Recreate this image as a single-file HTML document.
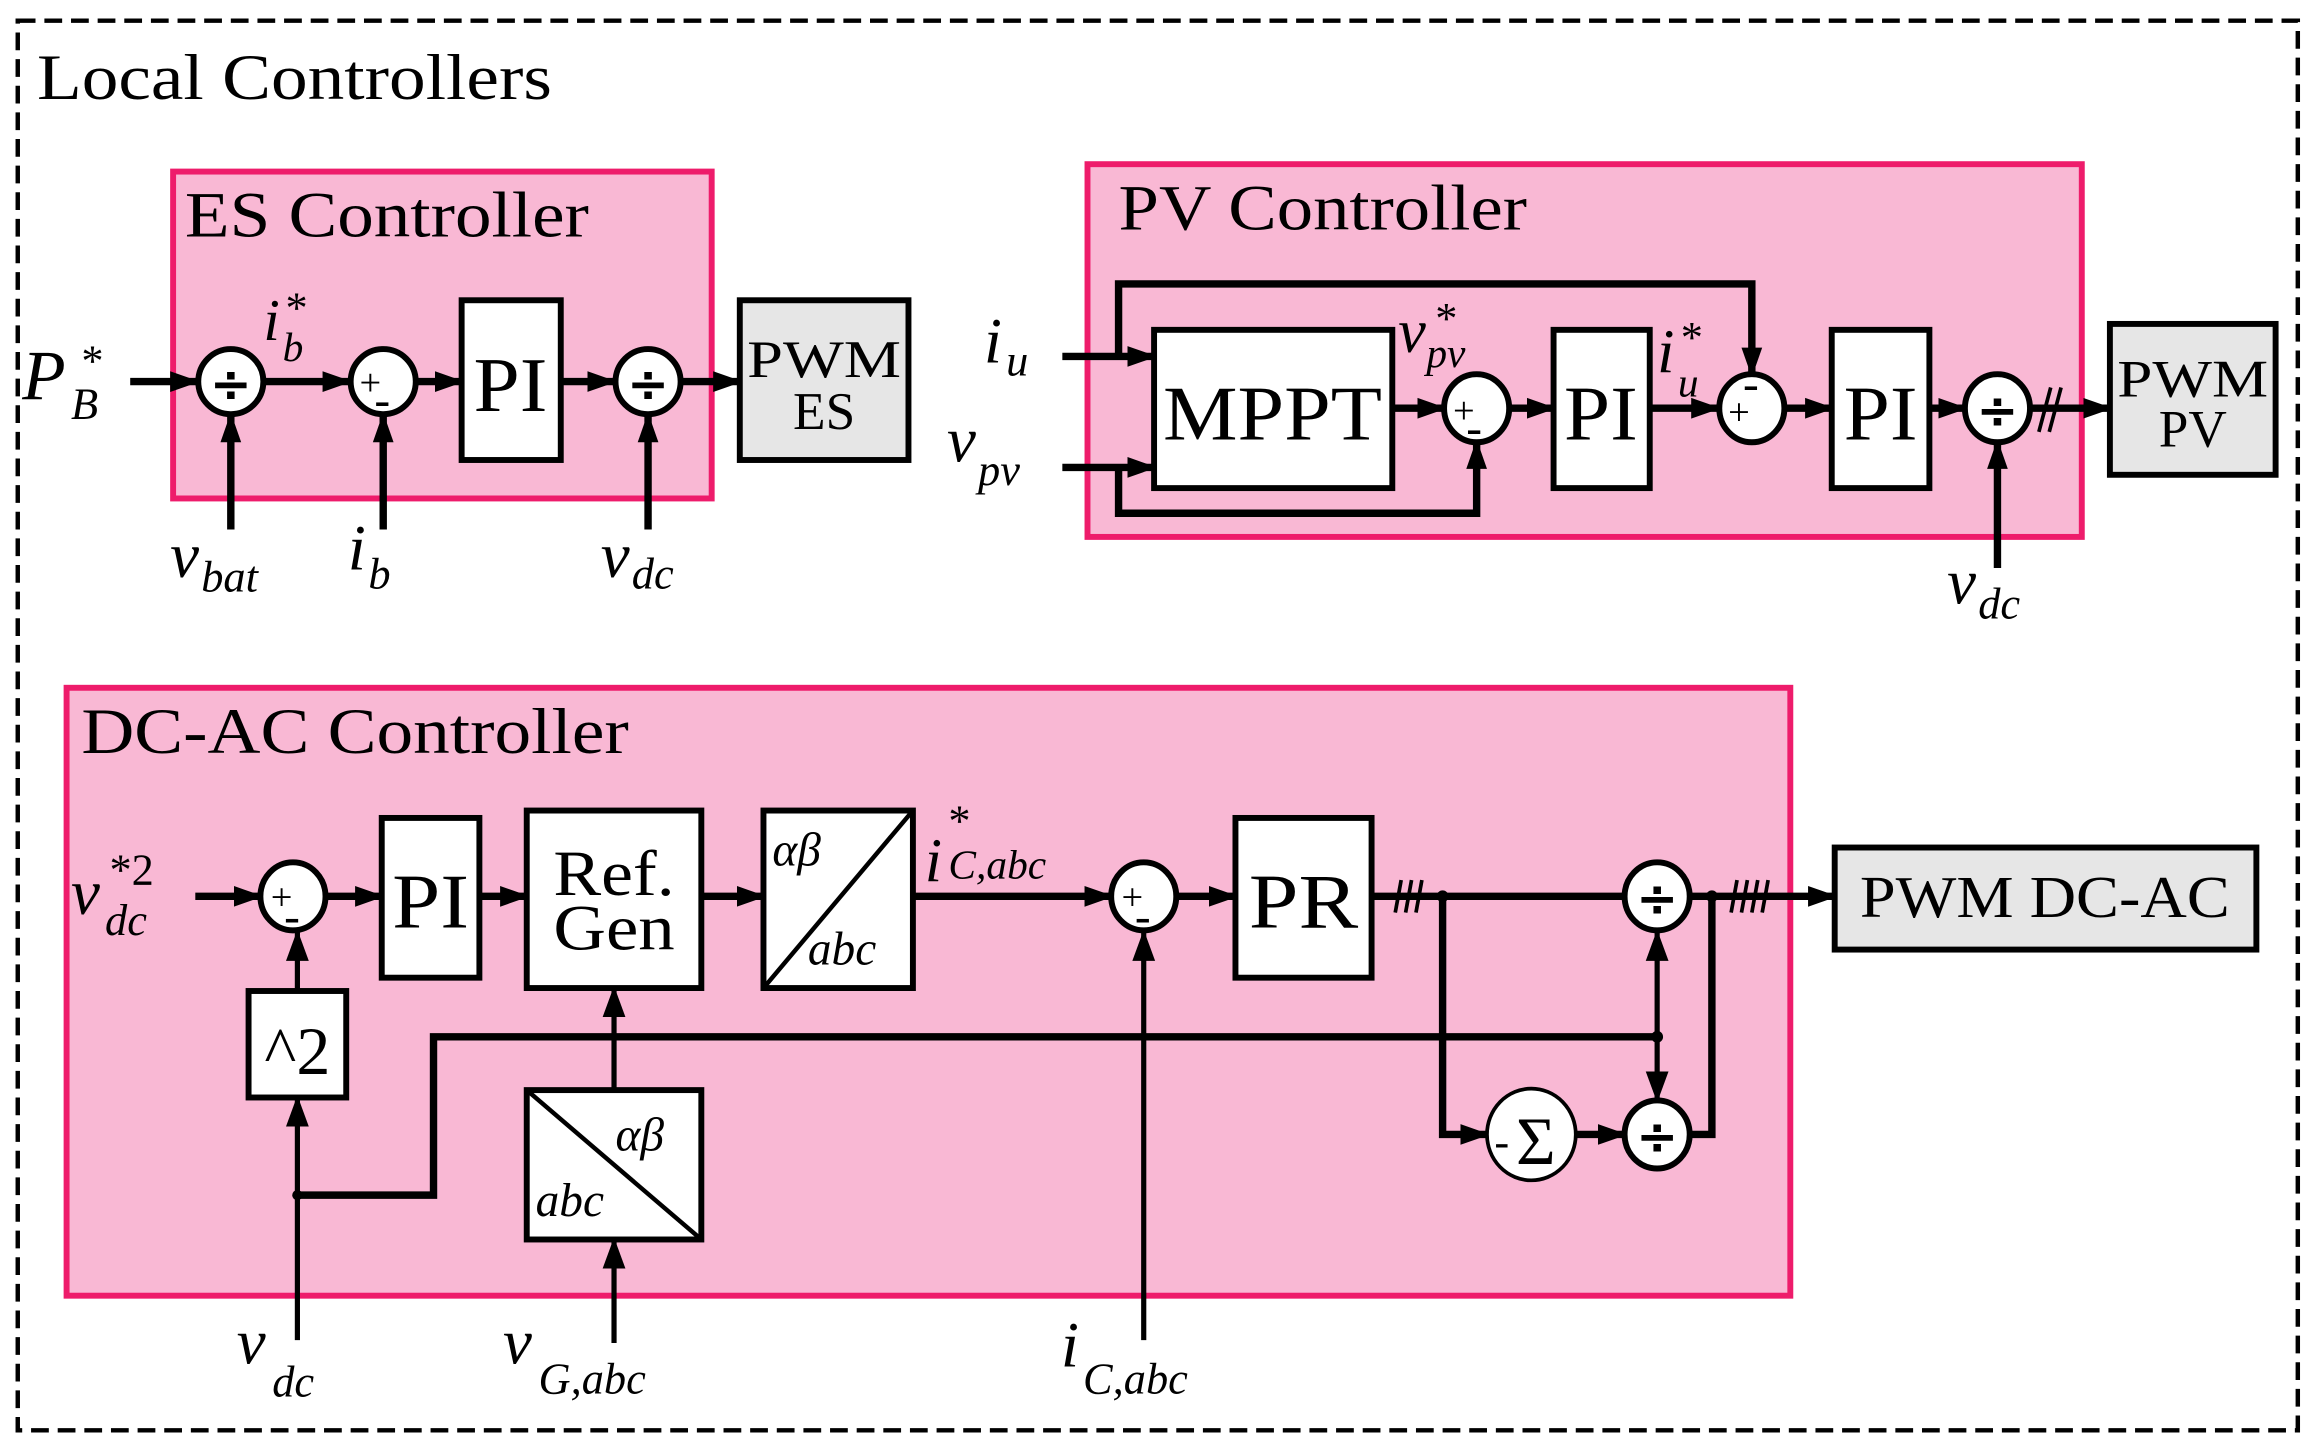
<!DOCTYPE html>
<html><head><meta charset="utf-8"><style>
html,body{margin:0;padding:0;background:#fff;}
svg{display:block;}
text{font-family:"Liberation Serif",serif;fill:#000;}
.m{font-style:italic;}
.d{font-family:"DejaVu Sans",sans-serif;font-weight:bold;}
</style></head><body>
<svg width="2320" height="1451" viewBox="0 0 1568 981" preserveAspectRatio="none" xmlns="http://www.w3.org/2000/svg">
<defs>
<marker id="a" markerWidth="4" markerHeight="4" refX="3.6" refY="2" orient="auto" markerUnits="strokeWidth"><path d="M0,0.6 L4,2 L0,3.4 z" fill="#000"/></marker>
<marker id="b" markerWidth="6" markerHeight="6" refX="5.6" refY="3" orient="auto" markerUnits="strokeWidth"><path d="M0,0.8 L6,3 L0,5.2 z" fill="#000"/></marker>
</defs>
<rect width="1568" height="981" fill="#fff"/>
<rect x="12" y="14" width="1541" height="953" fill="none" stroke="#000" stroke-width="3" stroke-dasharray="12,6"/>
<text x="25" y="67" font-size="44" textLength="348" lengthAdjust="spacingAndGlyphs">Local Controllers</text>

<!-- ES -->
<rect x="117" y="116" width="364" height="221" fill="#f9b8d4" stroke="#ee1c6b" stroke-width="4"/>
<text x="125" y="160" font-size="44" textLength="273" lengthAdjust="spacingAndGlyphs">ES Controller</text>
<g stroke="#000" stroke-width="5" fill="none">
<line x1="88" y1="258" x2="133" y2="258" marker-end="url(#a)"/>
<line x1="179" y1="258" x2="236" y2="258" marker-end="url(#a)"/>
<line x1="282" y1="258" x2="312" y2="258" marker-end="url(#a)"/>
<line x1="379" y1="258" x2="415" y2="258" marker-end="url(#a)"/>
<line x1="461" y1="258" x2="500" y2="258" marker-end="url(#a)"/>
<line x1="156" y1="358" x2="156" y2="281" marker-end="url(#a)"/>
<line x1="259" y1="358" x2="259" y2="281" marker-end="url(#a)"/>
<line x1="438" y1="358" x2="438" y2="281" marker-end="url(#a)"/>
</g>
<g stroke="#000" stroke-width="4" fill="#fff">
<circle cx="156" cy="258" r="22"/><circle cx="259" cy="258" r="22"/><circle cx="438" cy="258" r="22"/>
<rect x="312" y="203" width="67" height="108"/>
<rect x="500" y="203" width="114" height="108" fill="#e6e6e6"/>
</g>
<text class="d" x="156" y="271" font-size="34" text-anchor="middle">÷</text>
<text class="d" x="438" y="271" font-size="34" text-anchor="middle">÷</text>
<text x="243" y="267" font-size="26">+</text><text x="253" y="281" font-size="32">-</text>
<text x="345" y="278" font-size="52" text-anchor="middle" textLength="50" lengthAdjust="spacingAndGlyphs">PI</text>
<text x="557" y="255" font-size="36" text-anchor="middle" textLength="104" lengthAdjust="spacingAndGlyphs">PWM</text>
<text x="557" y="290" font-size="36" text-anchor="middle">ES</text>
<text x="15" y="270" font-size="48" class="m">P</text><text x="48" y="283" font-size="30" class="m">B</text><text x="55" y="254" font-size="30">*</text>
<text x="178" y="230" font-size="40" class="m">i</text><text x="191" y="244" font-size="28" class="m">b</text><text x="193" y="218" font-size="30">*</text>
<text x="115" y="390" font-size="44" class="m">v</text><text x="136" y="400" font-size="30" class="m">bat</text>
<text x="235" y="385" font-size="44" class="m">i</text><text x="249" y="398" font-size="30" class="m">b</text>
<text x="406" y="390" font-size="44" class="m">v</text><text x="427" y="398" font-size="30" class="m">dc</text>

<!-- PV -->
<rect x="735" y="111" width="672" height="252" fill="#f9b8d4" stroke="#ee1c6b" stroke-width="4"/>
<text x="756" y="155" font-size="44" textLength="276" lengthAdjust="spacingAndGlyphs">PV Controller</text>
<g stroke="#000" stroke-width="5" fill="none">
<line x1="718" y1="241" x2="780" y2="241" marker-end="url(#a)"/>
<line x1="718" y1="316" x2="780" y2="316" marker-end="url(#a)"/>
<polyline points="756,241 756,192 1184,192 1184,253" marker-end="url(#a)"/>
<polyline points="756,316 756,347 998,347 998,299" marker-end="url(#a)"/>
<line x1="941" y1="276" x2="976" y2="276" marker-end="url(#a)"/>
<line x1="1020" y1="276" x2="1050" y2="276" marker-end="url(#a)"/>
<line x1="1115" y1="276" x2="1161" y2="276" marker-end="url(#a)"/>
<line x1="1206" y1="276" x2="1238" y2="276" marker-end="url(#a)"/>
<line x1="1304" y1="276" x2="1328" y2="276" marker-end="url(#a)"/>
<line x1="1373" y1="276" x2="1426" y2="276" marker-end="url(#a)"/>
<line x1="1350" y1="384" x2="1350" y2="299" marker-end="url(#a)"/>
</g>
<g stroke="#000" stroke-width="2.5"><line x1="1378" y1="292" x2="1386" y2="262"/><line x1="1385" y1="292" x2="1393" y2="262"/></g>
<g stroke="#000" stroke-width="4" fill="#fff">
<rect x="780" y="223" width="161" height="107"/>
<rect x="1050" y="223" width="65" height="107"/>
<rect x="1238" y="223" width="66" height="107"/>
<ellipse cx="998" cy="276" rx="22" ry="23"/><ellipse cx="1184" cy="276" rx="22" ry="23"/><ellipse cx="1350" cy="276" rx="22" ry="23"/>
<rect x="1426" y="219" width="112" height="102" fill="#e6e6e6"/>
</g>
<text x="860" y="297" font-size="52" text-anchor="middle" textLength="148" lengthAdjust="spacingAndGlyphs">MPPT</text>
<text x="1082" y="297" font-size="52" text-anchor="middle" textLength="50" lengthAdjust="spacingAndGlyphs">PI</text>
<text x="1271" y="297" font-size="52" text-anchor="middle" textLength="50" lengthAdjust="spacingAndGlyphs">PI</text>
<text x="982" y="286" font-size="26">+</text><text x="991" y="300" font-size="32">-</text>
<text x="1168" y="287" font-size="26">+</text><text x="1178" y="270" font-size="32">-</text>
<text class="d" x="1350" y="289" font-size="34" text-anchor="middle">÷</text>
<text x="1482" y="268" font-size="36" text-anchor="middle" textLength="102" lengthAdjust="spacingAndGlyphs">PWM</text>
<text x="1482" y="302" font-size="36" text-anchor="middle">PV</text>
<text x="665" y="245" font-size="44" class="m">i</text><text x="680" y="254" font-size="30" class="m">u</text>
<text x="640" y="312" font-size="44" class="m">v</text><text x="661" y="328" font-size="30" class="m">pv</text>
<text x="945" y="238" font-size="42" class="m">v</text><text x="964" y="248" font-size="28" class="m">pv</text><text x="970" y="225" font-size="30">*</text>
<text x="1120" y="252" font-size="42" class="m">i</text><text x="1134" y="268" font-size="28" class="m">u</text><text x="1136" y="238" font-size="30">*</text>
<text x="1316" y="408" font-size="44" class="m">v</text><text x="1337" y="418" font-size="30" class="m">dc</text>

<!-- DC-AC -->
<rect x="45" y="465" width="1165" height="411" fill="#f9b8d4" stroke="#ee1c6b" stroke-width="4"/>
<text x="55" y="509" font-size="44" textLength="370" lengthAdjust="spacingAndGlyphs">DC-AC Controller</text>
<g stroke="#000" stroke-width="5" fill="none">
<line x1="132" y1="606" x2="176" y2="606" marker-end="url(#a)"/>
<line x1="220" y1="606" x2="258" y2="606" marker-end="url(#a)"/>
<line x1="324" y1="606" x2="356" y2="606" marker-end="url(#a)"/>
<line x1="474" y1="606" x2="516" y2="606" marker-end="url(#a)"/>
<line x1="617" y1="606" x2="751" y2="606" marker-end="url(#a)"/>
<line x1="795" y1="606" x2="835" y2="606" marker-end="url(#a)"/>
<line x1="927" y1="606" x2="1098" y2="606"/>
<line x1="1142" y1="606" x2="1240" y2="606" marker-end="url(#a)"/>
<polyline points="975,606 975,767 1005,767" marker-end="url(#a)"/>
<line x1="1065" y1="767" x2="1098" y2="767" marker-end="url(#a)"/>
<polyline points="1142,767 1157,767 1157,606"/>
<polyline points="201,808 293,808 293,701 1120,701"/>
</g>
<g stroke="#000" stroke-width="3.5" fill="none">
<line x1="201" y1="669" x2="201" y2="630" marker-end="url(#b)"/>
<line x1="201" y1="906" x2="201" y2="742" marker-end="url(#b)"/>
<line x1="415" y1="736" x2="415" y2="668" marker-end="url(#b)"/>
<line x1="415" y1="908" x2="415" y2="838" marker-end="url(#b)"/>
<line x1="773" y1="906" x2="773" y2="630" marker-end="url(#b)"/>
<line x1="1120" y1="701" x2="1120" y2="630" marker-end="url(#b)"/>
<line x1="1120" y1="701" x2="1120" y2="744" marker-end="url(#b)"/>
</g>
<g fill="#000"><circle cx="201" cy="808" r="3.5"/><circle cx="975" cy="606" r="4"/><circle cx="1157" cy="606" r="4"/><circle cx="1120" cy="701" r="4"/></g>
<g stroke="#000" stroke-width="2.5">
<line x1="943" y1="617" x2="947" y2="595"/><line x1="950" y1="617" x2="954" y2="595"/><line x1="957" y1="617" x2="961" y2="595"/>
<line x1="1170" y1="617" x2="1174" y2="595"/><line x1="1177" y1="617" x2="1181" y2="595"/><line x1="1184" y1="617" x2="1188" y2="595"/><line x1="1191" y1="617" x2="1195" y2="595"/>
</g>
<g stroke="#000" stroke-width="4" fill="#fff">
<ellipse cx="198" cy="606" rx="22" ry="23"/>
<rect x="258" y="553" width="66" height="108"/>
<rect x="356" y="548" width="118" height="120"/>
<rect x="516" y="548" width="101" height="120"/>
<ellipse cx="773" cy="606" rx="22" ry="23"/>
<rect x="835" y="553" width="92" height="108"/>
<ellipse cx="1120" cy="606" rx="22" ry="23"/>
<ellipse cx="1120" cy="767" rx="22" ry="23"/>
<rect x="168" y="670" width="66" height="72"/>
<rect x="356" y="737" width="118" height="101"/>
<rect x="1240" y="573" width="285" height="69" fill="#e6e6e6"/>
</g>
<ellipse cx="1035" cy="767" rx="30" ry="31" fill="#fff" stroke="#000" stroke-width="2.5"/>
<line x1="516" y1="668" x2="617" y2="548" stroke="#000" stroke-width="3"/>
<line x1="356" y1="737" x2="474" y2="838" stroke="#000" stroke-width="3"/>
<text x="183" y="615" font-size="26">+</text><text x="192" y="630" font-size="32">-</text>
<text x="758" y="615" font-size="26">+</text><text x="767" y="630" font-size="32">-</text>
<text x="291" y="627" font-size="52" text-anchor="middle" textLength="52" lengthAdjust="spacingAndGlyphs">PI</text>
<text x="415" y="605" font-size="44" text-anchor="middle" textLength="82" lengthAdjust="spacingAndGlyphs">Ref.</text>
<text x="415" y="642" font-size="44" text-anchor="middle" textLength="82" lengthAdjust="spacingAndGlyphs">Gen</text>
<text x="522" y="585" font-size="32" class="m">αβ</text><text x="546" y="652" font-size="32" class="m">abc</text>
<text x="416" y="778" font-size="32" class="m">αβ</text><text x="362" y="822" font-size="32" class="m">abc</text>
<text x="881" y="627" font-size="52" text-anchor="middle" textLength="74" lengthAdjust="spacingAndGlyphs">PR</text>
<text class="d" x="1120" y="619" font-size="34" text-anchor="middle">÷</text>
<text class="d" x="1120" y="780" font-size="34" text-anchor="middle">÷</text>
<text x="1010" y="782" font-size="30">-</text><text x="1038" y="787" font-size="46" text-anchor="middle">Σ</text>
<text x="201" y="726" font-size="46" text-anchor="middle">^2</text>
<text x="1382" y="620" font-size="40" text-anchor="middle" textLength="250" lengthAdjust="spacingAndGlyphs">PWM DC-AC</text>
<text x="48" y="618" font-size="44" class="m">v</text><text x="71" y="632" font-size="30" class="m">dc</text><text x="74" y="598" font-size="30">*2</text>
<text x="625" y="596" font-size="42" class="m">i</text><text x="641" y="594" font-size="28" class="m">C,abc</text><text x="641" y="565" font-size="30">*</text>
<text x="160" y="922" font-size="44" class="m">v</text><text x="184" y="944" font-size="30" class="m">dc</text>
<text x="340" y="922" font-size="44" class="m">v</text><text x="364" y="942" font-size="30" class="m">G,abc</text>
<text x="717" y="924" font-size="44" class="m">i</text><text x="732" y="942" font-size="30" class="m">C,abc</text>
</svg>
</body></html>
